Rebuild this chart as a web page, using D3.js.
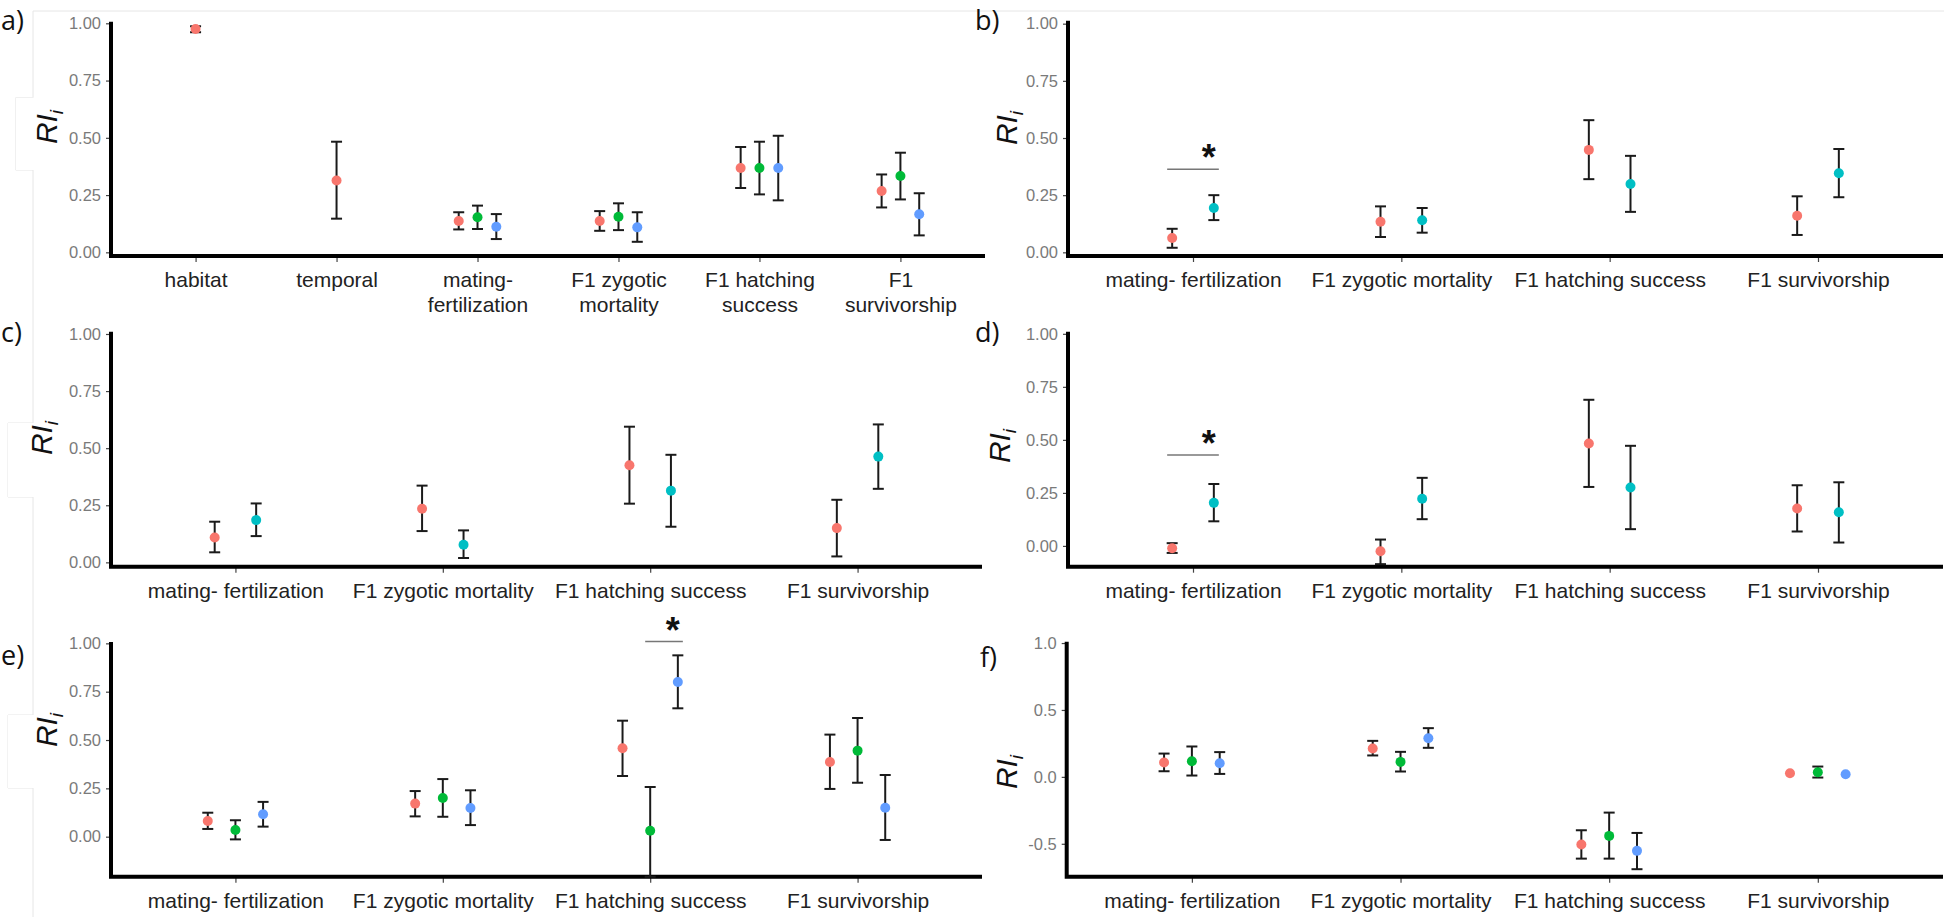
<!DOCTYPE html>
<html>
<head>
<meta charset="utf-8">
<script src="https://cdn.jsdelivr.net/npm/d3@7"></script>
<style>
  body { margin: 0; background: #fff; }
  svg { display: block; font-family: "Liberation Sans", Arial, sans-serif; }
</style>
</head>
<body>
<svg id="chart" width="1946" height="917"></svg>
<script>
// ---- data ----
const colors3 = ["#F8766D", "#00BA38", "#619CFF"];
const colors2 = ["#F8766D", "#00BFC4"];

const catsA = [["habitat"], ["temporal"], ["mating-", "fertilization"], ["F1 zygotic", "mortality"], ["F1 hatching", "success"], ["F1", "survivorship"]];
const catsBF = [["mating- fertilization"], ["F1 zygotic mortality"], ["F1 hatching success"], ["F1 survivorship"]];

const yTicks = [0, 0.25, 0.5, 0.75, 1];
const yTickLabels = ["0.00", "0.25", "0.50", "0.75", "1.00"];
const yTicksF = [-0.5, 0, 0.5, 1];
const yTickLabelsF = ["-0.5", "0.0", "0.5", "1.0"];

// [category][group]: mean, lower, upper
const meanA = [[0.975], [0.314], [0.137, 0.153, 0.112], [0.137, 0.155, 0.109], [0.368, 0.368, 0.368], [0.268, 0.333, 0.166]];
const lowA  = [[0.961], [0.147], [0.100, 0.102, 0.058], [0.094, 0.097, 0.046], [0.281, 0.253, 0.227], [0.196, 0.231, 0.074]];
const highA = [[0.987], [0.483], [0.175, 0.204, 0.167], [0.180, 0.214, 0.175], [0.460, 0.483, 0.509], [0.340, 0.435, 0.258]];

const meanB = [[0.063, 0.194], [0.134, 0.140], [0.448, 0.299], [0.160, 0.346]];
const lowB  = [[0.020, 0.141], [0.067, 0.086], [0.320, 0.177], [0.076, 0.241]];
const highB = [[0.103, 0.250], [0.201, 0.194], [0.578, 0.422], [0.245, 0.452]];

const meanC = [[0.109, 0.185], [0.235, 0.077], [0.425, 0.314], [0.150, 0.463]];
const lowC  = [[0.044, 0.115], [0.137, 0.019], [0.257, 0.156], [0.026, 0.322]];
const highC = [[0.178, 0.258], [0.336, 0.140], [0.594, 0.471], [0.274, 0.604]];

const meanD = [[-0.011, 0.203], [-0.025, 0.222], [0.483, 0.275], [0.176, 0.159]];
const lowD  = [[-0.033, 0.116], [-0.086, 0.126], [0.278, 0.079], [0.068, 0.016]];
const highD = [[0.013, 0.292], [0.030, 0.321], [0.689, 0.472], [0.286, 0.300]];

const meanE = [[0.081, 0.035, 0.116], [0.171, 0.200, 0.148], [0.457, 0.031, 0.800], [0.386, 0.445, 0.150]];
const lowE  = [[0.040, -0.014, 0.052], [0.105, 0.103, 0.060], [0.314, -0.207, 0.664], [0.247, 0.279, -0.017]];
const highE = [[0.124, 0.085, 0.180], [0.236, 0.298, 0.240], [0.600, 0.257, 0.938], [0.528, 0.614, 0.319]];

const meanF = [[0.107, 0.117, 0.102], [0.212, 0.112, 0.289], [-0.506, -0.441, -0.553], [0.027, 0.035, 0.020]];
const lowF  = [[0.042, 0.010, 0.022], [0.160, 0.040, 0.217], [-0.611, -0.611, -0.690], [null, -0.005, null]];
const highF = [[0.174, 0.227, 0.185], [0.269, 0.187, 0.364], [-0.399, -0.267, -0.419], [null, 0.077, null]];

// significance bars: panel, category, from group, to group, y
const sigPanel = ["b", "d", "e"];
const sigCat = [0, 0, 2];
const sigFrom = [0, 0, 1];
const sigTo = [1, 1, 2];
const sigY = [0.363, 0.429, 1.009];

// ---- layout ----
const panels = [
  { id: "a", cats: catsA, mean: meanA, low: lowA, high: highA, colors: colors3, ticks: yTicks, tickLabels: yTickLabels,
    x0: 111, x1: 985, y0: 21.7, y1: 256, dom: [-0.016, 1.007], tag: [1, 30], lab: [57, 127] },
  { id: "b", cats: catsBF, mean: meanB, low: lowB, high: highB, colors: colors2, ticks: yTicks, tickLabels: yTickLabels,
    x0: 1068, x1: 1943, y0: 20.7, y1: 256, dom: [-0.016, 1.013], tag: [975, 30], lab: [1017, 128] },
  { id: "c", cats: catsBF, mean: meanC, low: lowC, high: highC, colors: colors2, ticks: yTicks, tickLabels: yTickLabels,
    x0: 111, x1: 982, y0: 331.7, y1: 566.7, dom: [-0.019, 1.01], tag: [1, 342], lab: [52, 438] },
  { id: "d", cats: catsBF, mean: meanD, low: lowD, high: highD, colors: colors2, ticks: yTicks, tickLabels: yTickLabels,
    x0: 1068, x1: 1943, y0: 331.7, y1: 566.7, dom: [-0.098, 1.01], tag: [975, 342], lab: [1010, 446] },
  { id: "e", cats: catsBF, mean: meanE, low: lowE, high: highE, colors: colors3, ticks: yTicks, tickLabels: yTickLabels,
    x0: 111, x1: 982, y0: 642, y1: 876.7, dom: [-0.207, 1.007], tag: [1, 665], lab: [57, 730] },
  { id: "f", cats: catsBF, mean: meanF, low: lowF, high: highF, colors: colors3, ticks: yTicksF, tickLabels: yTickLabelsF,
    x0: 1066.7, x1: 1943, y0: 641.7, y1: 876.7, dom: [-0.746, 1.01], tag: [980, 667], lab: [1017, 772] }
];

const svg = d3.select("#chart");

// faint traces of the pasted-together figure
const deco = svg.append("g").attr("fill", "none").attr("stroke", "#e6e6e6").attr("stroke-width", 1);
deco.append("line").attr("x1", 33).attr("x2", 1944).attr("y1", 11).attr("y2", 11);
deco.append("line").attr("x1", 33).attr("x2", 33).attr("y1", 11).attr("y2", 917);
[[15.7, 97.7, 170], [8, 423, 497], [8, 715, 788]].forEach(([bx, by0, by1]) => {
  svg.append("rect").attr("x", bx).attr("y", by0).attr("width", 34 - bx).attr("height", by1 - by0).attr("fill", "#fff");
  deco.append("path").attr("d", `M33,${by0}H${bx}V${by1}H33`);
});

const positions = {};

panels.forEach(p => {
  const g = svg.append("g").attr("class", "panel-" + p.id);
  const x = d3.scalePoint().domain(d3.range(p.cats.length)).range([p.x0, p.x1]).padding(0.6);
  const y = d3.scaleLinear().domain(p.dom).range([p.y1, p.y0]);
  const step = x.step();

  // y axis ticks + labels
  const ya = g.append("g")
    .attr("transform", `translate(${p.x0},0)`)
    .call(d3.axisLeft(y).tickValues(p.ticks).tickFormat((d, i) => p.tickLabels[i]).tickSize(5).tickPadding(5));
  ya.select(".domain").remove();
  ya.selectAll(".tick line").attr("stroke", "#444").attr("stroke-width", 1.2);
  ya.selectAll(".tick text").attr("fill", "#7a7a7a").attr("font-size", 16.5)
    .attr("font-family", "'Liberation Sans', Arial, sans-serif");

  // x axis ticks + labels
  const xa = g.append("g")
    .attr("transform", `translate(0,${p.y1})`)
    .call(d3.axisBottom(x).tickSize(6).tickFormat(""));
  xa.select(".domain").remove();
  xa.selectAll(".tick line").attr("stroke", "#444").attr("stroke-width", 1.2);
  xa.selectAll(".tick text").remove();
  xa.selectAll(".tick").append("text")
    .attr("fill", "#222").attr("font-size", 21).attr("text-anchor", "middle")
    .attr("font-family", "'Liberation Sans', Arial, sans-serif")
    .each(function (d) {
      const t = d3.select(this);
      p.cats[d].forEach((line, li) => {
        t.append("tspan").attr("x", 0).attr("y", 31 + li * 25).text(line);
      });
    });

  // heavy axis lines
  g.append("path")
    .attr("d", `M${p.x0},${p.y0}V${p.y1}H${p.x1}`)
    .attr("fill", "none").attr("stroke", "#000").attr("stroke-width", 4);

  // dodged points
  const pts = [];
  p.mean.forEach((row, ci) => {
    const present = row.map((v, gi) => gi).filter(gi => row[gi] != null);
    const k = present.length;
    present.forEach((gi, j) => {
      const off = k === 1 ? 0 : (j - (k - 1) / 2) * (0.4 / k) * step;
      pts.push({ ci, gi, cx: x(ci) + off, m: row[gi], lo: p.low[ci][gi], hi: p.high[ci][gi] });
    });
  });
  positions[p.id] = { pts, y };

  const eb = g.append("g").attr("stroke", "#1a1a1a").attr("stroke-width", 2).attr("fill", "none");
  pts.filter(d => d.lo != null).forEach(d => {
    eb.append("line").attr("x1", d.cx).attr("x2", d.cx).attr("y1", y(d.lo)).attr("y2", y(d.hi));
    eb.append("line").attr("x1", d.cx - 5.5).attr("x2", d.cx + 5.5).attr("y1", y(d.lo)).attr("y2", y(d.lo));
    eb.append("line").attr("x1", d.cx - 5.5).attr("x2", d.cx + 5.5).attr("y1", y(d.hi)).attr("y2", y(d.hi));
  });

  g.append("g").selectAll("circle").data(pts).join("circle")
    .attr("cx", d => d.cx).attr("cy", d => y(d.m)).attr("r", 5)
    .attr("fill", d => p.colors[d.gi]);

  // y label RI_i
  g.append("text")
    .attr("transform", `translate(${p.lab[0]},${p.lab[1]}) rotate(-90)`)
    .attr("text-anchor", "middle").attr("font-style", "italic").attr("font-size", 30).attr("fill", "#111")
    .text("RI")
    .append("tspan").attr("font-size", 19).attr("dy", 6).text("i");

  // panel tag
  svg.append("text")
    .attr("x", p.tag[0]).attr("y", p.tag[1])
    .attr("font-family", "'Open Sans', 'Noto Sans', sans-serif").attr("font-size", 27).attr("fill", "#111")
    .text(p.id + ")");
});

// significance markers
sigPanel.forEach((pid, i) => {
  const { pts, y } = positions[pid];
  const a = pts.find(d => d.ci === sigCat[i] && d.gi === sigFrom[i]);
  const b = pts.find(d => d.ci === sigCat[i] && d.gi === sigTo[i]);
  const yy = y(sigY[i]);
  const g = svg.select(".panel-" + pid);
  g.append("line").attr("x1", a.cx - 5).attr("x2", b.cx + 5).attr("y1", yy).attr("y2", yy)
    .attr("stroke", "#777").attr("stroke-width", 1.5);
  g.append("text").attr("x", b.cx - 5).attr("y", yy + 1)
    .attr("text-anchor", "middle").attr("font-weight", "bold").attr("font-size", 36).attr("fill", "#111")
    .text("*");
});
</script>
</body>
</html>
